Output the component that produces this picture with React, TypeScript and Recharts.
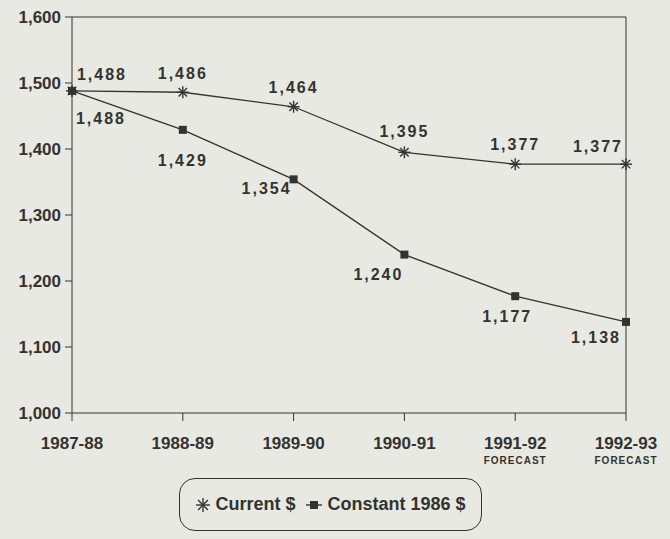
import React from 'react';
import {
  LineChart,
  Line,
  XAxis,
  YAxis,
  ReferenceLine,
  LabelList,
} from 'recharts';

const years = ['1987-88', '1988-89', '1989-90', '1990-91', '1991-92', '1992-93'];
const notes = ['', '', '', '', 'FORECAST', 'FORECAST'];
const current = [1488, 1486, 1464, 1395, 1377, 1377];
const constant1986 = [1488, 1429, 1354, 1240, 1177, 1138];
const yTicks = [1000, 1100, 1200, 1300, 1400, 1500, 1600];

const data = years.map((y, i) => ({
  year: y,
  note: notes[i],
  current: current[i],
  constant: constant1986[i],
}));

const INK = '#333330';
const BG = '#e9e9e4';
const FONT = "'Liberation Sans', Arial, sans-serif";

// label offsets relative to each point (style only)
const curOff = [[30, -11], [0, -13], [0, -14], [0, -15], [0, -14], [-28, -12]];
const conOff = [[29, 33], [0, 36], [-27, 15], [-26, 25], [-8, 26], [-30, 21]];

const fmt = (v: number) => v.toLocaleString('en-US');

const Asterisk = ({ cx, cy, size = 6 }: any) => (
  <g stroke={INK} strokeWidth={1.4}>
    <line x1={cx - size} y1={cy} x2={cx + size} y2={cy} />
    <line x1={cx} y1={cy - size} x2={cx} y2={cy + size} />
    <line x1={cx - size * 0.7} y1={cy - size * 0.7} x2={cx + size * 0.7} y2={cy + size * 0.7} />
    <line x1={cx - size * 0.7} y1={cy + size * 0.7} x2={cx + size * 0.7} y2={cy - size * 0.7} />
  </g>
);

const Square = ({ cx, cy }: any) => (
  <rect x={cx - 4} y={cy - 4} width={8} height={8} fill={INK} />
);

const makeLabel = (off: number[][]) => (props: any) => {
  const { x, y, value, index } = props;
  const [dx, dy] = off[index];
  return (
    <text
      x={x + dx}
      y={y + dy}
      textAnchor="middle"
      fill={INK}
      fontFamily={FONT}
      fontWeight="bold"
      fontSize={16}
      letterSpacing={2}
    >
      {fmt(value)}
    </text>
  );
};

const XTick = ({ x, y, payload, index }: any) => (
  <g>
    <text x={x} y={y + 26} textAnchor="middle" fill={INK} fontFamily={FONT} fontWeight="bold" fontSize={17}>
      {payload.value}
    </text>
    {notes[index] ? (
      <text
        x={x}
        y={y + 41}
        textAnchor="middle"
        fill={INK}
        fontFamily={FONT}
        fontWeight="bold"
        fontSize={10}
        letterSpacing={1}
      >
        {notes[index]}
      </text>
    ) : null}
  </g>
);

const YTick = ({ x, y, payload }: any) => (
  <text x={x - 2} y={y + 6} textAnchor="end" fill={INK} fontFamily={FONT} fontWeight="bold" fontSize={17}>
    {fmt(payload.value)}
  </text>
);

export default function App() {
  return (
    <div style={{ position: 'absolute', left: 0, top: 0, width: 670, height: 539, background: BG }}>
      <LineChart
        width={670}
        height={539}
        data={data}
        margin={{ top: 17, right: 44, left: 0, bottom: 0 }}
      >
        <XAxis
          dataKey="year"
          height={126}
          padding={{ left: 0, right: 0 }}
          stroke={INK}
          tickSize={8}
          tick={<XTick />}
          interval={0}
        />
        <YAxis
          width={72}
          domain={[1000, 1600]}
          ticks={yTicks}
          stroke={INK}
          tickSize={7}
          tick={<YTick />}
        />
        <ReferenceLine y={1600} stroke={INK} strokeWidth={1} />
        <ReferenceLine x="1992-93" stroke={INK} strokeWidth={1} />
        <Line
          dataKey="current"
          stroke={INK}
          strokeWidth={1.3}
          dot={<Asterisk />}
          isAnimationActive={false}
        >
          <LabelList dataKey="current" content={makeLabel(curOff)} />
        </Line>
        <Line
          dataKey="constant"
          stroke={INK}
          strokeWidth={1.3}
          dot={<Square />}
          isAnimationActive={false}
        >
          <LabelList dataKey="constant" content={makeLabel(conOff)} />
        </Line>
      </LineChart>
      <div
        style={{
          position: 'absolute',
          left: 179,
          top: 478,
          width: 303,
          height: 53,
          border: `1.5px solid ${INK}`,
          borderRadius: 16,
          boxSizing: 'border-box',
          display: 'flex',
          alignItems: 'center',
          justifyContent: 'center',
          fontFamily: FONT,
          fontWeight: 'bold',
          fontSize: 18,
          color: INK,
          gap: 4,
        }}
      >
        <svg width={16} height={16}>
          <Asterisk cx={8} cy={8} size={7} />
        </svg>
        <span style={{ marginRight: 6 }}>Current $</span>
        <svg width={18} height={16}>
          <line x1={1} y1={8} x2={17} y2={8} stroke={INK} strokeWidth={1.4} />
          <Square cx={9} cy={8} />
        </svg>
        <span>Constant 1986 $</span>
      </div>
    </div>
  );
}
